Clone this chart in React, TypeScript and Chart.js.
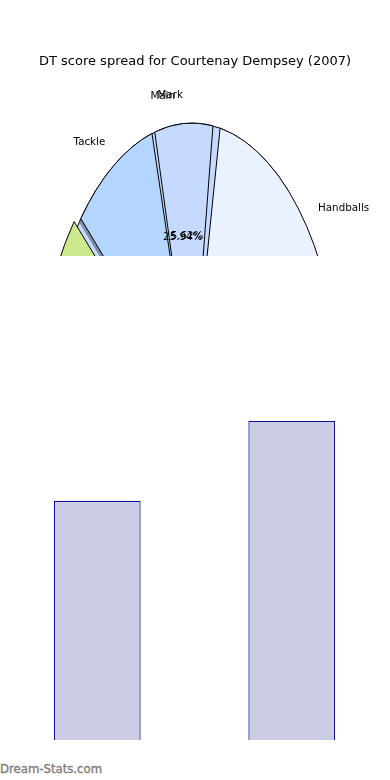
import React, { useEffect, useRef } from 'react';
import { Chart, registerables } from 'chart.js';

Chart.register(...registerables);

const TITLE = 'DT score spread for Courtenay Dempsey (2007)';

// Front pie (drawn on top); '' entries are the empty wedges left open in it
const frontLabels = ['Tackle', '', 'Mark', '', 'Handballs', 'Goal', 'Kick'];
const frontValues = [9.17, 0.31, 6.31, 0.78, 22.11, 5.06, 56.26];
const frontPct = ['', '', '5.62%', '', '', '', ''];

// Back pie (drawn underneath)
const backLabels = ['Main', ''];
const backValues = [25.94, 74.06];
const backPct = ['25.94%', ''];

// Bar chart
const barCategories = ['2006', '2007'];
const barValues = [59.3, 79.1];

const CLEAR = 'rgba(0,0,0,0)';
const FRONT_COLORS = ['#b4d5ff', CLEAR, '#c6daff', CLEAR, '#ebf2ff', '#a8c8f5', '#cde98d'];
const FRONT_BORDERS = ['#000', CLEAR, '#000', CLEAR, '#000', '#000', '#000'];
const FRONT_EXPLODE = [0, 0, 0, 0, 0, 0, 11];
const BACK_COLORS = ['#c6daff', CLEAR];
const BACK_BORDERS = ['#000', CLEAR];

const ELLIPSE = { cx: 192, cy: 404, a: 148, b: 281 };
const FONT = '"DejaVu Sans", "Noto Sans", sans-serif';
const LABEL_FONT = `10.3px ${FONT}`;

function geom(chart: any) {
  const el = chart.getDatasetMeta(0).data[0];
  return { x: el.x, y: el.y, R: el.outerRadius };
}

function applyEllipse(ctx: CanvasRenderingContext2D, g: any, e: any) {
  ctx.translate(e.cx, e.cy);
  ctx.scale(e.a / g.R, e.b / g.R);
  ctx.translate(-g.x, -g.y);
}

function drawLabels(ctx: any, chart: any, pct: string[]) {
  const g = geom(chart);
  const e = ELLIPSE;
  const labels = chart.data.labels || [];
  const meta = chart.getDatasetMeta(0);
  ctx.save();
  ctx.font = LABEL_FONT;
  ctx.fillStyle = '#000';
  ctx.textBaseline = 'middle';
  meta.data.forEach((el: any, i: number) => {
    const mid = (el.startAngle + el.endAngle) / 2;
    const circ = el.endAngle - el.startAngle;
    const off = ((el.options.offset || 0) / 4) * (2 - Math.sin(Math.min(Math.PI, circ)));
    const at = (r: number) => ({
      x: e.cx + (Math.cos(mid) * (r * g.R + off) * e.a) / g.R,
      y: e.cy + (Math.sin(mid) * (r * g.R + off) * e.b) / g.R,
    });
    if (labels[i]) {
      const p = at(1.1);
      ctx.textAlign = Math.cos(mid) > 0 ? 'left' : 'right';
      ctx.fillText(labels[i], p.x, p.y);
    }
    if (pct[i]) {
      const p = at(0.6);
      ctx.textAlign = 'center';
      ctx.fillText(pct[i], p.x, p.y + 1);
    }
  });
  ctx.restore();
}

function makePlugin(cfg: any) {
  return {
    id: 'ellipsePie',
    beforeDatasetsDraw(chart: any) {
      const ctx: any = chart.ctx;
      const g = geom(chart);
      const base = ctx.getTransform();
      ctx.save();
      if (cfg.shadowIndices.length) {
        ctx.save();
        ctx.translate(-2, 3);
        applyEllipse(ctx, g, ELLIPSE);
        const meta = chart.getDatasetMeta(0);
        for (const i of cfg.shadowIndices) {
          const el = meta.data[i];
          const saved = el.options;
          el.options = { ...saved, backgroundColor: 'rgba(54,64,77,0.5)', borderWidth: 0 };
          el.draw(ctx);
          el.options = saved;
        }
        ctx.restore();
      }
      applyEllipse(ctx, g, ELLIPSE);
      ctx.stroke = function (...a: any[]) {
        this.save();
        this.setTransform(base);
        CanvasRenderingContext2D.prototype.stroke.apply(this, a as any);
        this.restore();
      };
    },
    afterDatasetsDraw(chart: any) {
      const ctx: any = chart.ctx;
      delete ctx.stroke;
      ctx.restore();
      if (!cfg.drawText) return;
      if (cfg.under) drawLabels(ctx, cfg.under.chart, cfg.under.pct);
      drawLabels(ctx, chart, cfg.pct);
    },
  };
}

function makePie(canvas: HTMLCanvasElement, cfg: any) {
  return new Chart(canvas, {
    type: 'pie',
    data: {
      labels: cfg.labels,
      datasets: [
        {
          data: cfg.values,
          backgroundColor: cfg.colors,
          borderColor: cfg.borders,
          borderWidth: 1,
          offset: cfg.explode,
          clip: false,
        } as any,
      ],
    },
    options: {
      animation: false,
      responsive: false,
      rotation: cfg.rotation,
      layout: { padding: 0 },
      plugins: {
        legend: { display: false },
        tooltip: { enabled: false },
        title: {
          display: cfg.title,
          text: TITLE,
          color: '#000',
          font: { family: FONT, size: 13, weight: 'normal' },
          padding: { top: 54, bottom: 10 },
        },
      },
    } as any,
    plugins: [makePlugin(cfg)],
  });
}

export default function App() {
  const backRef = useRef<HTMLCanvasElement>(null);
  const frontRef = useRef<HTMLCanvasElement>(null);
  const barRef = useRef<HTMLCanvasElement>(null);

  useEffect(() => {
    const back = makePie(backRef.current as HTMLCanvasElement, {
      labels: backLabels,
      values: backValues,
      colors: BACK_COLORS,
      borders: BACK_BORDERS,
      explode: 0,
      rotation: -52.7,
      pct: backPct,
      title: false,
      shadowIndices: [],
      drawText: false,
    });
    const front = makePie(frontRef.current as HTMLCanvasElement, {
      labels: frontLabels,
      values: frontValues,
      colors: FRONT_COLORS,
      borders: FRONT_BORDERS,
      explode: FRONT_EXPLODE,
      rotation: -48.7,
      pct: frontPct,
      title: true,
      shadowIndices: [0],
      drawText: true,
      under: { chart: back, pct: backPct },
    });
    const bar = new Chart(barRef.current as HTMLCanvasElement, {
      type: 'bar',
      data: {
        labels: barCategories,
        datasets: [
          {
            data: barValues,
            backgroundColor: '#ccccE5',
            borderColor: '#111196',
            borderWidth: 1.2,
            barPercentage: 0.446,
            categoryPercentage: 1,
          },
        ],
      },
      options: {
        animation: false,
        responsive: false,
        layout: { padding: { left: -1, right: 1 } },
        plugins: { legend: { display: false }, tooltip: { enabled: false } },
        scales: {
          x: { display: false },
          y: { display: false, min: 0, max: 120 },
        },
      },
    });
    return () => {
      front.destroy();
      back.destroy();
      bar.destroy();
    };
  }, []);

  return (
    <div style={{ position: 'absolute', left: 0, top: 0, width: 390, height: 780, background: '#fff', overflow: 'hidden' }}>
      <canvas ref={backRef} width={390} height={256} style={{ position: 'absolute', left: 0, top: 0 }} />
      <canvas ref={frontRef} width={390} height={256} style={{ position: 'absolute', left: 0, top: 0 }} />
      <canvas ref={barRef} width={390} height={484} style={{ position: 'absolute', left: 0, top: 256 }} />
      <div
        style={{
          position: 'absolute',
          left: 0,
          top: 762,
          font: `11.7px ${FONT}`,
          lineHeight: '14px',
          color: '#7d7d7d',
          whiteSpace: 'nowrap',
          WebkitTextStroke: '0.35px #7d7d7d',
        }}
      >
        Dream-Stats.com
      </div>
    </div>
  );
}
